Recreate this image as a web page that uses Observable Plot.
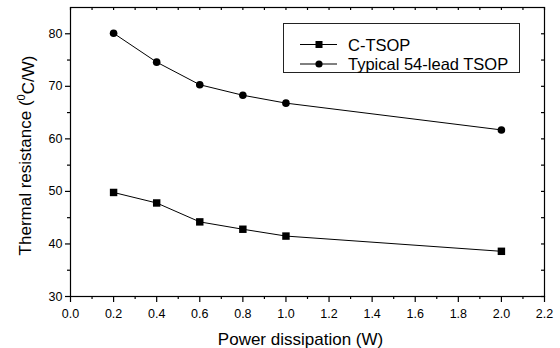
<!DOCTYPE html>
<html>
<head>
<meta charset="utf-8">
<script src="https://cdn.jsdelivr.net/npm/d3@7"></script>
<script src="https://cdn.jsdelivr.net/npm/@observablehq/plot@0.6"></script>
<style>
  html, body { margin: 0; padding: 0; background: #fff; }
  #wrap { position: relative; width: 560px; height: 348px; font-family: "Liberation Sans", Arial, sans-serif; }
  #legend { position: absolute; left: 283px; top: 23px; width: 237px; height: 50px; border: 1px solid #222; background: #fff; box-sizing: border-box; }
  #legend svg { position: absolute; left: 0; top: 0; }
</style>
</head>
<body>
<div id="wrap"></div>
<script>
// ---- data ----
const power = [0.2, 0.4, 0.6, 0.8, 1.0, 2.0];
const cTsop = [49.8, 47.8, 44.2, 42.8, 41.5, 38.6];
const typicalTsop = [80.1, 74.6, 70.3, 68.3, 66.8, 61.7];
const seriesNames = ["C-TSOP", "Typical 54-lead TSOP"];
const xTicks = [0, 0.2, 0.4, 0.6, 0.8, 1.0, 1.2, 1.4, 1.6, 1.8, 2.0, 2.2];
const xMinorTicks = [0.1, 0.3, 0.5, 0.7, 0.9, 1.1, 1.3, 1.5, 1.7, 1.9, 2.1];
const yTicks = [30, 40, 50, 60, 70, 80];
const yMinorTicks = [35, 45, 55, 65, 75];
const xLabel = "Power dissipation (W)";

const rows = [];
power.forEach((p, i) => {
  rows.push({series: seriesNames[0], x: p, y: cTsop[i]});
  rows.push({series: seriesNames[1], x: p, y: typicalTsop[i]});
});

const W = 560, H = 348;
const mL = 70, mR = 16, mT = 7, mB = 52;
const innerH = H - mT - mB, innerW = W - mL - mR;
const font = "Liberation Sans, Arial, sans-serif";

const chart = Plot.plot({
  width: W, height: H,
  marginLeft: mL, marginRight: mR, marginTop: mT, marginBottom: mB,
  style: {fontFamily: font, fontSize: "12px", color: "#000", background: "#fff"},
  x: {domain: [0, 2.2]},
  y: {domain: [30, 85]},
  marks: [
    Plot.frame({stroke: "#000", strokeWidth: 1.2}),
    Plot.axisX({ticks: xTicks, tickSize: 6, tickPadding: 7, tickFormat: d3.format(".1f"), label: null, fontSize: 12.5, strokeWidth: 1.2}),
    Plot.axisX({ticks: xMinorTicks, tickSize: 3, text: null, label: null, strokeWidth: 1.2}),
    Plot.axisY({ticks: yTicks, tickSize: 5, tickPadding: 3, label: null, fontSize: 12.5, strokeWidth: 1.2}),
    Plot.axisY({ticks: yMinorTicks, tickSize: 3, text: null, label: null, strokeWidth: 1.2}),
    Plot.ruleX(xTicks.concat(xMinorTicks), {x: d => d, insetBottom: innerH - 3, stroke: "#000", strokeWidth: 1.2}),
    Plot.ruleY(yTicks.concat(yMinorTicks), {y: d => d, insetLeft: innerW - 3, stroke: "#000", strokeWidth: 1.2}),
    Plot.line(rows, {x: "x", y: "y", z: "series", stroke: "#000", strokeWidth: 1}),
    Plot.dot(rows.filter(d => d.series === seriesNames[0]), {x: "x", y: "y", symbol: "square", r: 4.2, fill: "#000", stroke: null}),
    Plot.dot(rows.filter(d => d.series === seriesNames[1]), {x: "x", y: "y", symbol: "circle", r: 3.8, fill: "#000", stroke: null}),
    Plot.text([xLabel], {text: d => d, frameAnchor: "bottom", lineAnchor: "bottom", dy: 48, dx: -7, fontSize: 17, fill: "#000"})
  ]
});

const svg = d3.select(chart);
const yl = svg.append("text")
  .attr("transform", `translate(31,${mT + innerH / 2 + 4}) rotate(-90)`)
  .attr("text-anchor", "middle")
  .attr("font-family", font)
  .attr("font-size", 17)
  .attr("fill", "#000");
yl.append("tspan").text("Thermal resistance (");
yl.append("tspan").attr("font-size", 11).attr("dy", "-0.55em").text("0");
yl.append("tspan").attr("dy", "0.55em").text("C/W)");

const wrap = document.getElementById("wrap");
wrap.appendChild(chart);

const legend = document.createElement("div");
legend.id = "legend";
wrap.appendChild(legend);
const ls = d3.select(legend).append("svg").attr("width", 237).attr("height", 50);
const symbols = ["square", "circle"];
seriesNames.forEach((name, i) => {
  const cy = 20.5 + i * 19.5;
  const g = ls.append("g");
  g.append("line").attr("x1", 16).attr("x2", 53).attr("y1", cy).attr("y2", cy).attr("stroke", "#000").attr("stroke-width", 1);
  if (symbols[i] === "square") {
    g.append("rect").attr("x", 35 - 3.5).attr("y", cy - 3.5).attr("width", 7).attr("height", 7).attr("fill", "#000");
  } else {
    g.append("circle").attr("cx", 35).attr("cy", cy).attr("r", 3.6).attr("fill", "#000");
  }
  g.append("text").attr("x", 64).attr("y", cy + 6).attr("font-family", font).attr("font-size", 16.5).attr("fill", "#000").text(name);
});
</script>
</body>
</html>
